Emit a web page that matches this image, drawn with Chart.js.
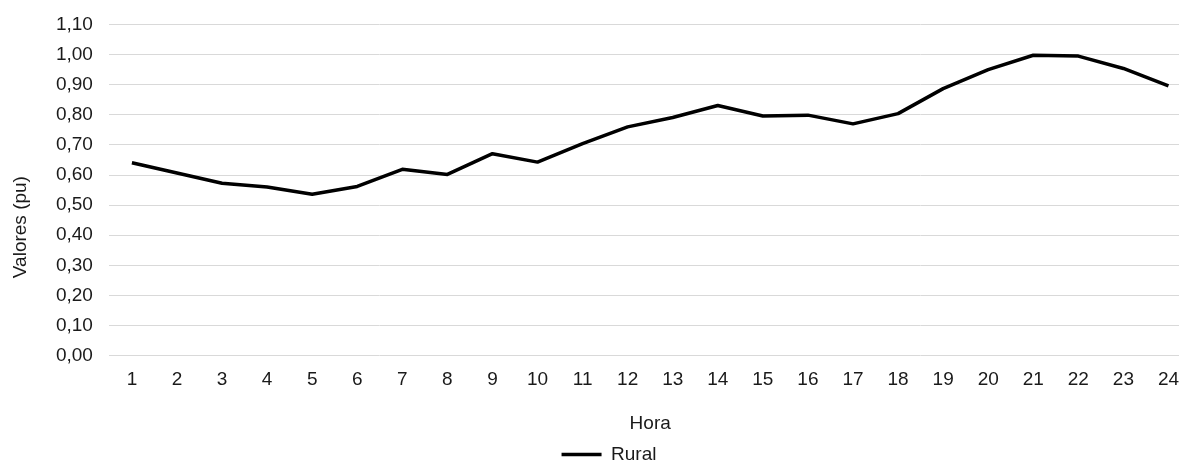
<!DOCTYPE html>
<html lang="pt">
<head>
<meta charset="utf-8">
<title>Rural</title>
<script src="https://cdn.jsdelivr.net/npm/chart.js@4/dist/chart.umd.min.js"></script>
<style>
  html, body { margin: 0; padding: 0; background: #ffffff; overflow: hidden; }
  #wrap { width: 1179px; height: 464px; overflow: hidden; position: relative; }
  #chart { display: block; }
</style>
</head>
<body>
<div id="wrap"><canvas id="chart" width="1218" height="474"></canvas></div>
<script>
// Hours of the day (x categories)
const hours = ['1','2','3','4','5','6','7','8','9','10','11','12',
               '13','14','15','16','17','18','19','20','21','22','23','24'];

// Rural load profile, per-unit values
const rural = [0.641, 0.607, 0.573, 0.560, 0.536, 0.562, 0.619, 0.602,
               0.671, 0.643, 0.704, 0.760, 0.791, 0.831, 0.796, 0.799,
               0.770, 0.804, 0.887, 0.950, 0.998, 0.995, 0.954, 0.896];

// Value axis range and step
const yMin = 0;
const yMax = 1.1;
const yStep = 0.1;

const seriesName = 'Rural';
const xTitle = 'Hora';
const yTitle = 'Valores (pu)';

const font = { family: '"Liberation Sans", Arial, sans-serif', size: 19 };
const textColor = '#1a1a1a';
const gridColor = '#d9d9d9';

// Center the legend on the whole canvas width and drop the value-axis
// title a little below the middle of the plot
const layoutTweaks = {
  id: 'layoutTweaks',
  afterLayout(chart) {
    const lg = chart.legend;
    if (lg) {
      lg.left = 0;
      lg.right = chart.width;
      lg.width = chart.width;
    }
    const ys = chart.scales.y;
    if (ys && !ys._titleShifted) {
      const drawTitle = ys.drawTitle;
      ys.drawTitle = function () {
        this.ctx.save();
        this.ctx.translate(0, 37);
        drawTitle.call(this);
        this.ctx.restore();
      };
      ys._titleShifted = true;
    }
  }
};

new Chart(document.getElementById('chart'), {
  type: 'line',
  data: {
    labels: hours,
    datasets: [{
      label: seriesName,
      data: rural,
      borderColor: '#000000',
      backgroundColor: '#000000',
      borderWidth: 3.5,
      pointRadius: 0,
      pointHoverRadius: 0,
      tension: 0,
      borderJoinStyle: 'round',
      fill: false
    }]
  },
  plugins: [layoutTweaks],
  options: {
    responsive: false,
    animation: false,
    layout: { padding: { top: 24.5, right: 27, bottom: 0, left: 0 } },
    plugins: {
      tooltip: { enabled: false },
      legend: {
        position: 'bottom',
        labels: {
          font: font,
          color: textColor,
          usePointStyle: true,
          pointStyle: 'line',
          pointStyleWidth: 40,
          padding: 10
        }
      }
    },
    scales: {
      x: {
        offset: true,
        grid: { display: false, drawTicks: false },
        border: { display: false },
        ticks: { font: font, color: textColor, padding: 12.6, maxRotation: 0, autoSkip: false },
        title: { display: true, text: xTitle, font: font, color: textColor, padding: { top: 8.5, bottom: 0 } }
      },
      y: {
        min: yMin,
        max: yMax,
        grid: { color: gridColor, lineWidth: 1, drawTicks: false },
        border: { display: false },
        afterFit(scale) { scale.paddingTop = 0; },
        ticks: {
          font: font,
          color: textColor,
          padding: 16.5,
          stepSize: yStep,
          callback: v => v.toFixed(2).replace('.', ',')
        },
        title: { display: true, text: yTitle, font: font, color: textColor, padding: { top: 9.6, bottom: 7 } }
      }
    }
  }
});
</script>
</body>
</html>
